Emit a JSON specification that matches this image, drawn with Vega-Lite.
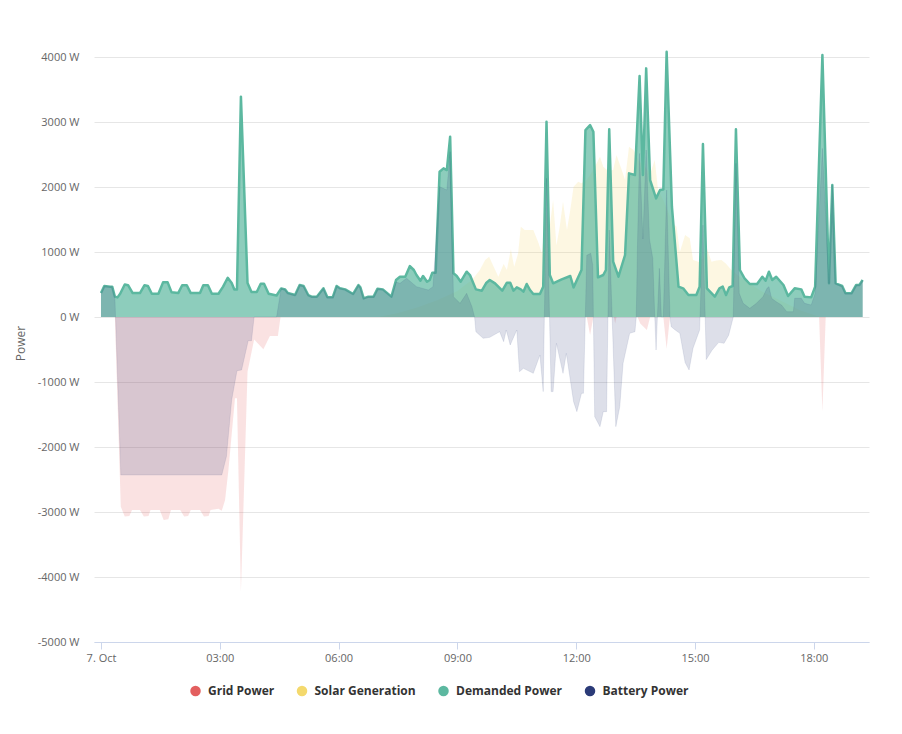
{
  "$schema": "https://vega.github.io/schema/vega-lite/v6.json",
  "autosize": {"type": "none"},
  "padding": {"left": 94, "top": 44, "right": 33, "bottom": 92},
  "width": 775,
  "height": 598,
  "background": "#ffffff",
  "config": {
    "view": {"stroke": null},
    "font": "Open Sans"
  },
  "datasets": {
    "grid": [
      {"minute": 0, "power": 0}, {"minute": 21, "power": 0}, {"minute": 30, "power": -2918}, {"minute": 36, "power": -3071},
      {"minute": 43, "power": -3060}, {"minute": 47, "power": -2970}, {"minute": 59, "power": -2970}, {"minute": 65, "power": -3071},
      {"minute": 72, "power": -3060}, {"minute": 75, "power": -2970}, {"minute": 89, "power": -2970}, {"minute": 95, "power": -3122},
      {"minute": 102, "power": -3110}, {"minute": 106, "power": -2970}, {"minute": 120, "power": -2970}, {"minute": 126, "power": -3071},
      {"minute": 132, "power": -3060}, {"minute": 136, "power": -2970}, {"minute": 150, "power": -2970}, {"minute": 156, "power": -3071},
      {"minute": 163, "power": -3060}, {"minute": 166, "power": -2970}, {"minute": 178, "power": -2950}, {"minute": 183, "power": -2980},
      {"minute": 188, "power": -2816}, {"minute": 193, "power": -2363}, {"minute": 203, "power": -1251}, {"minute": 206, "power": -1250},
      {"minute": 212, "power": -4225}, {"minute": 222, "power": -841}, {"minute": 232, "power": -348}, {"minute": 246, "power": -497},
      {"minute": 256, "power": -292}, {"minute": 268, "power": -292}, {"minute": 272, "power": 0}, {"minute": 736, "power": 0},
      {"minute": 741, "power": -277}, {"minute": 746, "power": 0}, {"minute": 777, "power": 0}, {"minute": 779, "power": -100},
      {"minute": 781, "power": 0}, {"minute": 813, "power": 0}, {"minute": 817, "power": -100}, {"minute": 827, "power": -200},
      {"minute": 832, "power": 0}, {"minute": 852, "power": 0}, {"minute": 857, "power": -490}, {"minute": 862, "power": 0},
      {"minute": 1088, "power": 0}, {"minute": 1093, "power": -1456}, {"minute": 1098, "power": 0}, {"minute": 1154, "power": 0}
    ],
    "solar": [
      {"minute": 0, "power": 0}, {"minute": 420, "power": 0}, {"minute": 450, "power": 60}, {"minute": 480, "power": 150},
      {"minute": 510, "power": 260}, {"minute": 540, "power": 400}, {"minute": 555, "power": 520}, {"minute": 562, "power": 569},
      {"minute": 574, "power": 723}, {"minute": 582, "power": 877}, {"minute": 588, "power": 928}, {"minute": 595, "power": 774},
      {"minute": 602, "power": 620}, {"minute": 610, "power": 815}, {"minute": 615, "power": 723}, {"minute": 621, "power": 1041},
      {"minute": 626, "power": 774}, {"minute": 632, "power": 979}, {"minute": 636, "power": 1389}, {"minute": 642, "power": 1338},
      {"minute": 655, "power": 1338}, {"minute": 663, "power": 1133}, {"minute": 668, "power": 979}, {"minute": 674, "power": 1594},
      {"minute": 680, "power": 1400}, {"minute": 685, "power": 1800}, {"minute": 690, "power": 1100}, {"minute": 695, "power": 1389},
      {"minute": 700, "power": 1774}, {"minute": 706, "power": 1338}, {"minute": 711, "power": 1646}, {"minute": 716, "power": 2005},
      {"minute": 723, "power": 2082}, {"minute": 728, "power": 2056}, {"minute": 735, "power": 2100}, {"minute": 742, "power": 2200},
      {"minute": 751, "power": 2364}, {"minute": 756, "power": 2466}, {"minute": 761, "power": 2312}, {"minute": 768, "power": 2250},
      {"minute": 776, "power": 2261}, {"minute": 781, "power": 2492}, {"minute": 789, "power": 2261}, {"minute": 794, "power": 2107},
      {"minute": 800, "power": 2620}, {"minute": 807, "power": 2569}, {"minute": 815, "power": 2400}, {"minute": 825, "power": 2300},
      {"minute": 832, "power": 2200}, {"minute": 839, "power": 2415}, {"minute": 844, "power": 1953}, {"minute": 852, "power": 1800},
      {"minute": 860, "power": 1600}, {"minute": 866, "power": 1450}, {"minute": 872, "power": 1389}, {"minute": 877, "power": 1000},
      {"minute": 885, "power": 1261}, {"minute": 892, "power": 1210}, {"minute": 897, "power": 877}, {"minute": 905, "power": 850},
      {"minute": 912, "power": 900}, {"minute": 917, "power": 1082}, {"minute": 925, "power": 851}, {"minute": 932, "power": 870},
      {"minute": 940, "power": 877}, {"minute": 947, "power": 820}, {"minute": 955, "power": 723}, {"minute": 970, "power": 600},
      {"minute": 1000, "power": 400}, {"minute": 1030, "power": 250}, {"minute": 1060, "power": 100}, {"minute": 1090, "power": 0},
      {"minute": 1154, "power": 0}
    ],
    "demanded": [
      {"minute": 0, "power": 368}, {"minute": 5, "power": 478}, {"minute": 14, "power": 467}, {"minute": 17, "power": 467},
      {"minute": 21, "power": 313}, {"minute": 25, "power": 302}, {"minute": 29, "power": 357}, {"minute": 36, "power": 500},
      {"minute": 41, "power": 489}, {"minute": 48, "power": 368}, {"minute": 59, "power": 368}, {"minute": 66, "power": 489},
      {"minute": 71, "power": 478}, {"minute": 77, "power": 357}, {"minute": 87, "power": 357}, {"minute": 94, "power": 533},
      {"minute": 101, "power": 533}, {"minute": 107, "power": 379}, {"minute": 117, "power": 368}, {"minute": 123, "power": 489},
      {"minute": 130, "power": 489}, {"minute": 136, "power": 368}, {"minute": 150, "power": 368}, {"minute": 155, "power": 489},
      {"minute": 162, "power": 489}, {"minute": 168, "power": 357}, {"minute": 178, "power": 357}, {"minute": 185, "power": 467},
      {"minute": 192, "power": 604}, {"minute": 198, "power": 522}, {"minute": 202, "power": 423}, {"minute": 206, "power": 423},
      {"minute": 212, "power": 3390}, {"minute": 222, "power": 522}, {"minute": 228, "power": 385}, {"minute": 236, "power": 385},
      {"minute": 242, "power": 511}, {"minute": 247, "power": 511}, {"minute": 254, "power": 357}, {"minute": 266, "power": 330},
      {"minute": 273, "power": 440}, {"minute": 279, "power": 423}, {"minute": 283, "power": 368}, {"minute": 290, "power": 350},
      {"minute": 294, "power": 338}, {"minute": 301, "power": 492}, {"minute": 307, "power": 477}, {"minute": 314, "power": 338},
      {"minute": 319, "power": 313}, {"minute": 327, "power": 313}, {"minute": 337, "power": 441}, {"minute": 343, "power": 302},
      {"minute": 351, "power": 302}, {"minute": 357, "power": 477}, {"minute": 362, "power": 441}, {"minute": 370, "power": 425},
      {"minute": 382, "power": 354}, {"minute": 390, "power": 492}, {"minute": 393, "power": 456}, {"minute": 398, "power": 287},
      {"minute": 405, "power": 313}, {"minute": 413, "power": 313}, {"minute": 419, "power": 436}, {"minute": 427, "power": 425},
      {"minute": 440, "power": 313}, {"minute": 447, "power": 569}, {"minute": 453, "power": 620}, {"minute": 461, "power": 620},
      {"minute": 468, "power": 784}, {"minute": 474, "power": 723}, {"minute": 478, "power": 646}, {"minute": 484, "power": 559},
      {"minute": 488, "power": 631}, {"minute": 494, "power": 543}, {"minute": 498, "power": 569}, {"minute": 502, "power": 682},
      {"minute": 507, "power": 682}, {"minute": 513, "power": 2235}, {"minute": 519, "power": 2287}, {"minute": 524, "power": 2261},
      {"minute": 529, "power": 2774}, {"minute": 534, "power": 672}, {"minute": 539, "power": 631}, {"minute": 545, "power": 543},
      {"minute": 554, "power": 697}, {"minute": 559, "power": 646}, {"minute": 568, "power": 425}, {"minute": 577, "power": 405},
      {"minute": 584, "power": 528}, {"minute": 589, "power": 569}, {"minute": 597, "power": 518}, {"minute": 608, "power": 405},
      {"minute": 615, "power": 528}, {"minute": 620, "power": 528}, {"minute": 625, "power": 405}, {"minute": 630, "power": 456},
      {"minute": 636, "power": 425}, {"minute": 640, "power": 390}, {"minute": 645, "power": 508}, {"minute": 650, "power": 415},
      {"minute": 655, "power": 354}, {"minute": 665, "power": 354}, {"minute": 670, "power": 467}, {"minute": 675, "power": 3004},
      {"minute": 680, "power": 646}, {"minute": 685, "power": 518}, {"minute": 698, "power": 579}, {"minute": 711, "power": 631},
      {"minute": 716, "power": 456}, {"minute": 728, "power": 723}, {"minute": 734, "power": 2876}, {"minute": 741, "power": 2953},
      {"minute": 746, "power": 2851}, {"minute": 753, "power": 610}, {"minute": 761, "power": 646}, {"minute": 765, "power": 723},
      {"minute": 770, "power": 2887}, {"minute": 776, "power": 851}, {"minute": 784, "power": 620}, {"minute": 794, "power": 954},
      {"minute": 800, "power": 2210}, {"minute": 809, "power": 2184}, {"minute": 816, "power": 3707}, {"minute": 821, "power": 2184},
      {"minute": 826, "power": 3825}, {"minute": 832, "power": 2107}, {"minute": 841, "power": 1825}, {"minute": 847, "power": 1953},
      {"minute": 852, "power": 1963}, {"minute": 857, "power": 4081}, {"minute": 865, "power": 1697}, {"minute": 875, "power": 467},
      {"minute": 882, "power": 441}, {"minute": 890, "power": 338}, {"minute": 902, "power": 338}, {"minute": 907, "power": 467},
      {"minute": 912, "power": 2661}, {"minute": 918, "power": 441}, {"minute": 930, "power": 313}, {"minute": 937, "power": 441},
      {"minute": 942, "power": 467}, {"minute": 947, "power": 338}, {"minute": 952, "power": 456}, {"minute": 957, "power": 477},
      {"minute": 962, "power": 2887}, {"minute": 968, "power": 723}, {"minute": 975, "power": 595}, {"minute": 983, "power": 508},
      {"minute": 994, "power": 508}, {"minute": 1002, "power": 620}, {"minute": 1007, "power": 559}, {"minute": 1012, "power": 697},
      {"minute": 1017, "power": 569}, {"minute": 1023, "power": 620}, {"minute": 1034, "power": 492}, {"minute": 1041, "power": 323},
      {"minute": 1051, "power": 441}, {"minute": 1061, "power": 425}, {"minute": 1066, "power": 313}, {"minute": 1076, "power": 302},
      {"minute": 1082, "power": 467}, {"minute": 1093, "power": 4030}, {"minute": 1103, "power": 518}, {"minute": 1108, "power": 2030},
      {"minute": 1113, "power": 518}, {"minute": 1123, "power": 477}, {"minute": 1128, "power": 364}, {"minute": 1137, "power": 364},
      {"minute": 1144, "power": 492}, {"minute": 1149, "power": 492}, {"minute": 1154, "power": 569}
    ],
    "battery": [
      {"minute": 0, "power": 368}, {"minute": 5, "power": 478}, {"minute": 14, "power": 467}, {"minute": 17, "power": 467},
      {"minute": 21, "power": 313}, {"minute": 30, "power": -2430}, {"minute": 183, "power": -2430}, {"minute": 190, "power": -2148},
      {"minute": 198, "power": -1277}, {"minute": 206, "power": -826}, {"minute": 213, "power": -815}, {"minute": 223, "power": -365},
      {"minute": 228, "power": -365}, {"minute": 232, "power": 0}, {"minute": 266, "power": 0}, {"minute": 273, "power": 440},
      {"minute": 279, "power": 423}, {"minute": 283, "power": 368}, {"minute": 290, "power": 350}, {"minute": 294, "power": 338},
      {"minute": 301, "power": 492}, {"minute": 307, "power": 477}, {"minute": 314, "power": 338}, {"minute": 319, "power": 313},
      {"minute": 327, "power": 313}, {"minute": 337, "power": 441}, {"minute": 343, "power": 302}, {"minute": 351, "power": 302},
      {"minute": 357, "power": 477}, {"minute": 362, "power": 441}, {"minute": 370, "power": 425}, {"minute": 382, "power": 354},
      {"minute": 390, "power": 492}, {"minute": 393, "power": 456}, {"minute": 398, "power": 287}, {"minute": 405, "power": 313},
      {"minute": 413, "power": 313}, {"minute": 419, "power": 436}, {"minute": 427, "power": 425}, {"minute": 440, "power": 313},
      {"minute": 447, "power": 540}, {"minute": 453, "power": 518}, {"minute": 463, "power": 595}, {"minute": 478, "power": 467},
      {"minute": 496, "power": 415}, {"minute": 503, "power": 467}, {"minute": 513, "power": 2005}, {"minute": 524, "power": 1953},
      {"minute": 529, "power": 2543}, {"minute": 534, "power": 313}, {"minute": 544, "power": 210}, {"minute": 554, "power": 364},
      {"minute": 562, "power": 159}, {"minute": 566, "power": 0}, {"minute": 568, "power": -226}, {"minute": 579, "power": -328},
      {"minute": 589, "power": -313}, {"minute": 604, "power": -226}, {"minute": 610, "power": -379}, {"minute": 614, "power": -200},
      {"minute": 620, "power": -431}, {"minute": 630, "power": -200}, {"minute": 634, "power": -841}, {"minute": 640, "power": -790},
      {"minute": 655, "power": -866}, {"minute": 665, "power": -585}, {"minute": 670, "power": -1148}, {"minute": 675, "power": 2133},
      {"minute": 682, "power": -1148}, {"minute": 685, "power": -1148}, {"minute": 690, "power": -405}, {"minute": 700, "power": -866},
      {"minute": 705, "power": -559}, {"minute": 716, "power": -1302}, {"minute": 721, "power": -1456}, {"minute": 728, "power": -1174},
      {"minute": 731, "power": -1174}, {"minute": 736, "power": 950}, {"minute": 742, "power": 980}, {"minute": 745, "power": 800},
      {"minute": 748, "power": -1533}, {"minute": 756, "power": -1687}, {"minute": 761, "power": -1456}, {"minute": 766, "power": -1456},
      {"minute": 770, "power": 1338}, {"minute": 780, "power": -1687}, {"minute": 786, "power": -1379}, {"minute": 791, "power": -713},
      {"minute": 801, "power": -251}, {"minute": 809, "power": -226}, {"minute": 811, "power": 0}, {"minute": 813, "power": 1200},
      {"minute": 816, "power": 2517}, {"minute": 821, "power": 1200}, {"minute": 826, "power": 2569}, {"minute": 831, "power": 1200},
      {"minute": 836, "power": 900}, {"minute": 839, "power": 0}, {"minute": 841, "power": -508}, {"minute": 843, "power": 0},
      {"minute": 846, "power": 749}, {"minute": 849, "power": 0}, {"minute": 852, "power": 0}, {"minute": 857, "power": 1953},
      {"minute": 862, "power": 0}, {"minute": 864, "power": -150}, {"minute": 870, "power": -200}, {"minute": 877, "power": -250},
      {"minute": 885, "power": -700}, {"minute": 891, "power": -815}, {"minute": 897, "power": -480}, {"minute": 907, "power": -200},
      {"minute": 912, "power": 1415}, {"minute": 917, "power": -655}, {"minute": 926, "power": -508}, {"minute": 936, "power": -390},
      {"minute": 944, "power": -405}, {"minute": 951, "power": -280}, {"minute": 958, "power": 0}, {"minute": 962, "power": 2364},
      {"minute": 967, "power": 364}, {"minute": 973, "power": 210}, {"minute": 983, "power": 133}, {"minute": 993, "power": 210},
      {"minute": 1003, "power": 313}, {"minute": 1009, "power": 441}, {"minute": 1012, "power": 467}, {"minute": 1016, "power": 287},
      {"minute": 1023, "power": 236}, {"minute": 1031, "power": 185}, {"minute": 1039, "power": 82}, {"minute": 1049, "power": 82},
      {"minute": 1051, "power": 287}, {"minute": 1061, "power": 287}, {"minute": 1066, "power": 210}, {"minute": 1076, "power": 185},
      {"minute": 1082, "power": 364}, {"minute": 1093, "power": 2594}, {"minute": 1103, "power": 518}, {"minute": 1108, "power": 2030},
      {"minute": 1113, "power": 518}, {"minute": 1123, "power": 477}, {"minute": 1128, "power": 364}, {"minute": 1137, "power": 364},
      {"minute": 1144, "power": 492}, {"minute": 1149, "power": 492}, {"minute": 1154, "power": 569}
    ]
  },
  "encoding": {
    "x": {
      "field": "minute",
      "type": "quantitative",
      "scale": {"domain": [-10.6, 1163.6], "nice": false, "zero": false},
      "axis": {
        "title": null,
        "values": [0, 180, 360, 540, 720, 900, 1080],
        "labelExpr": "datum.value == 0 ? '7. Oct' : (datum.value < 600 ? '0' : '') + (datum.value / 60) + ':00'",
        "grid": false,
        "domainColor": "#ccd6eb",
        "tickColor": "#ccd6eb",
        "tickSize": 7,
        "labelPadding": 3,
        "labelColor": "#666666",
        "labelFontSize": 11,
        "labelFont": "Open Sans",
        "labelFlush": false
      }
    },
    "y": {
      "field": "power",
      "type": "quantitative",
      "scale": {"domain": [-5000, 4200], "nice": false},
      "axis": {
        "title": "Power",
        "values": [-5000, -4000, -3000, -2000, -1000, 0, 1000, 2000, 3000, 4000],
        "labelExpr": "datum.value + ' W'",
        "grid": true,
        "gridColor": "#e6e6e6",
        "domain": false,
        "ticks": false,
        "labelPadding": 15,
        "labelColor": "#666666",
        "labelFontSize": 11,
        "labelFont": "Open Sans",
        "titleColor": "#666666",
        "titleFontSize": 12,
        "titleFontWeight": "normal",
        "titleFont": "Open Sans",
        "titleX": -74,
        "titleY": 299,
        "titleAngle": -90,
        "titleAlign": "center",
        "titleBaseline": "middle"
      }
    }
  },
  "layer": [
    {
      "data": {"name": "grid"},
      "mark": {"type": "area", "fillOpacity": 0.18},
      "encoding": {
        "color": {
          "datum": "Grid Power",
          "type": "nominal",
          "scale": {
            "domain": ["Grid Power", "Solar Generation", "Demanded Power", "Battery Power"],
            "range": ["#e35f5f", "#f4d96d", "#5cb8a0", "#2b3b78"]
          },
          "legend": {
            "title": null,
            "orient": "none",
            "direction": "horizontal",
            "legendX": 95.5,
            "legendY": 641,
            "symbolType": "circle",
            "symbolSize": 110,
            "symbolOpacity": 1,
            "symbolStrokeWidth": 0,
            "labelFont": "Open Sans",
            "labelFontSize": 12,
            "labelFontWeight": "bold",
            "labelColor": "#333333",
            "labelOffset": 6.5,
            "columnPadding": 21.5,
            "labelExpr": "datum.label"
          }
        }
      }
    },
    {
      "data": {"name": "solar"},
      "mark": {"type": "area", "fillOpacity": 0.2},
      "encoding": {"color": {"datum": "Solar Generation", "type": "nominal"}}
    },
    {
      "data": {"name": "demanded"},
      "mark": {"type": "area", "fillOpacity": 0.7},
      "encoding": {"color": {"datum": "Demanded Power", "type": "nominal"}}
    },
    {
      "data": {"name": "demanded"},
      "mark": {"type": "line", "color": "#5cb8a0", "strokeWidth": 2.5, "strokeJoin": "round"},
      "encoding": {}
    },
    {
      "data": {"name": "battery"},
      "mark": {"type": "area", "fillOpacity": 0.16},
      "encoding": {"color": {"datum": "Battery Power", "type": "nominal"}}
    },
    {
      "data": {"name": "battery"},
      "mark": {"type": "line", "color": "#2b3b78", "strokeWidth": 1, "opacity": 0.1},
      "encoding": {}
    }
  ]
}
